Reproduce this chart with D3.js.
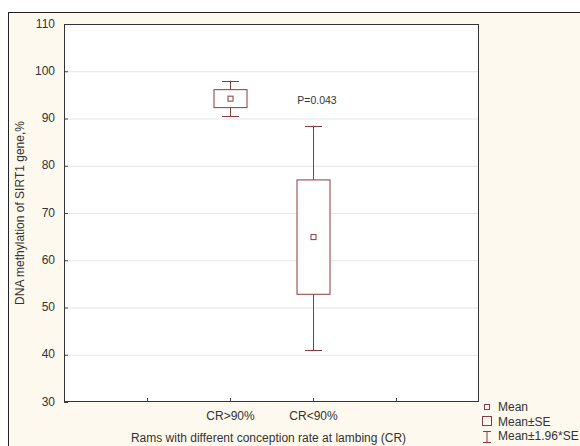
<!DOCTYPE html>
<head>
<meta charset="utf-8">
<style>
  body { margin: 0; background: #fff; }
  svg { display: block; }
</style>
</head>
<body>
<svg width="580" height="446" font-family="Liberation Sans, Arial, sans-serif"></svg>
<script src="https://d3js.org/d3.v7.min.js"></script>
<script>
// values
var groups = ["", "CR>90%", "CR<90%", " "];
var means = [94.2, 64.9];
var seLow = [92.3, 52.8];
var seHigh = [96.1, 77.0];
var ciLow = [90.5, 41.0];
var ciHigh = [98.0, 88.5];
var yTicks = [30, 40, 50, 60, 70, 80, 90, 100, 110];
var legendItems = ["Mean", "Mean\u00b1SE", "Mean\u00b11.96*SE"];

var svg = d3.select("svg"),
    mLeft = 64, mRight = 479, mTop = 24, mBottom = 402,
    red = "#8b3b3f";

// cream frame
svg.append("rect")
    .attr("x", 8.5).attr("y", 12.5)
    .attr("width", 600).attr("height", 500)
    .attr("fill", "#fdf9ee")
    .attr("stroke", "#222");

svg.append("rect")
    .attr("x", mLeft).attr("y", mTop)
    .attr("width", mRight - mLeft).attr("height", mBottom - mTop)
    .attr("fill", "#fff");

var x = d3.scalePoint().domain(groups).range([mLeft, mRight]).padding(1);
var y = d3.scaleLinear().domain([30, 110]).range([mBottom, mTop]);

// grid
svg.append("g").selectAll("line")
    .data(yTicks.slice(1, -1))
    .enter().append("line")
      .attr("x1", mLeft).attr("x2", mRight)
      .attr("y1", function(d) { return y(d) + 0.5; })
      .attr("y2", function(d) { return y(d) + 0.5; })
      .attr("stroke", "#e6e6e6");

var yAxis = svg.append("g")
    .attr("transform", "translate(" + mLeft + ",0)")
    .call(d3.axisLeft(y).tickValues(yTicks).tickSize(-4).tickPadding(9));

var xAxis = svg.append("g")
    .attr("transform", "translate(0," + mBottom + ")")
    .call(d3.axisBottom(x).tickSize(-4).tickPadding(9));

[yAxis, xAxis].forEach(function(a) {
  a.select(".domain").remove();
  a.selectAll("line").attr("stroke", "#444");
  a.selectAll("text").attr("font-size", 12).attr("fill", "#333").attr("font-family", "Liberation Sans, Arial, sans-serif");
});
yAxis.selectAll("text").attr("dy", "0.25em");

// plot border
svg.append("rect")
    .attr("x", mLeft + 0.5).attr("y", mTop + 0.5)
    .attr("width", mRight - mLeft - 1).attr("height", mBottom - mTop - 1)
    .attr("fill", "none")
    .attr("stroke", "#333");

// boxes
var cats = groups.slice(1, 3);
var g = svg.append("g").attr("stroke", red).attr("fill", "none");

cats.forEach(function(c, i) {
  var cx = Math.round(x(c)) + 0.5;
  g.append("line")
      .attr("x1", cx).attr("x2", cx)
      .attr("y1", y(ciHigh[i])).attr("y2", y(ciLow[i]));
  [ciHigh[i], ciLow[i]].forEach(function(v) {
    g.append("line")
        .attr("x1", cx - 8.5).attr("x2", cx + 8.5)
        .attr("y1", Math.round(y(v)) + 0.5).attr("y2", Math.round(y(v)) + 0.5);
  });
  g.append("rect")
      .attr("x", cx - 16.5).attr("width", 33)
      .attr("y", y(seHigh[i])).attr("height", y(seLow[i]) - y(seHigh[i]))
      .attr("fill", "#fff");
  g.append("rect")
      .attr("x", cx - 2.5).attr("width", 5)
      .attr("y", y(means[i]) - 2.5).attr("height", 5)
      .attr("fill", "#fff");
});

svg.append("text")
    .attr("x", x("CR<90%") + 4).attr("y", 104)
    .attr("text-anchor", "middle")
    .attr("font-size", 10.5).attr("fill", "#333")
    .text("P=0.043");

svg.append("text")
    .attr("transform", "translate(24," + (mTop + mBottom) / 2 + ")rotate(-90)")
    .attr("text-anchor", "middle")
    .attr("font-size", 12).attr("fill", "#333")
    .text("DNA methylation of SIRT1 gene,%");

svg.append("text")
    .attr("x", (mLeft + mRight) / 2 - 3).attr("y", 442)
    .attr("text-anchor", "middle")
    .attr("font-size", 12).attr("fill", "#333")
    .text("Rams with different conception rate at lambing (CR)");

// legend
var lg = svg.append("g").attr("transform", "translate(487,407)");
lg.append("rect").attr("x", -2.5).attr("y", -2.5).attr("width", 5).attr("height", 5)
    .attr("fill", "none").attr("stroke", red);
lg.append("rect").attr("x", -4.5).attr("y", 9.5).attr("width", 9).attr("height", 9)
    .attr("fill", "none").attr("stroke", red);
lg.append("path").attr("d", "M-4,24.5H4M0,24.5V35M-4,35.5H4")
    .attr("fill", "none").attr("stroke", red);
lg.selectAll("text").data(legendItems).enter().append("text")
    .attr("x", 11).attr("y", function(d, i) { return i * 14.5 + 4; })
    .attr("font-size", 12).attr("fill", "#333")
    .text(function(d) { return d; });
</script>
</body>
